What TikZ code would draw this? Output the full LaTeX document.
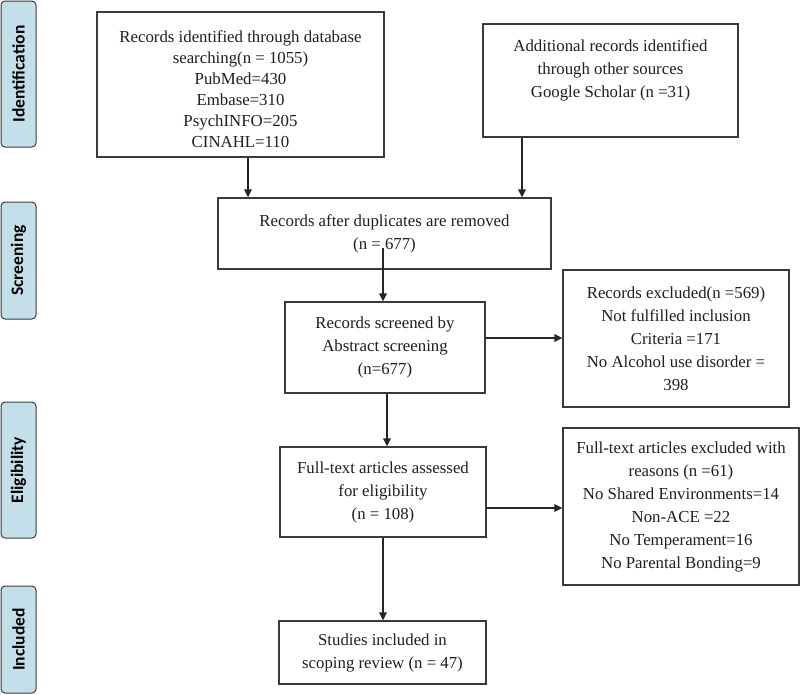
\documentclass[tikz,border=0pt]{standalone}
\usepackage{fontspec}
\setmainfont{Liberation Serif}
\newfontfamily\labelfont{Carlito}
\usetikzlibrary{arrows.meta}
\definecolor{boxline}{HTML}{3A3A3A}
\definecolor{txt}{HTML}{1F1F1F}
\definecolor{phasefill}{HTML}{C5DFEA}
\definecolor{phaseline}{HTML}{3C3C3C}
\definecolor{arrowc}{HTML}{262626}
\begin{document}
\begin{tikzpicture}[x=1pt,y=-1pt,
  box/.style={draw=boxline, line width=1.3pt, fill=white, align=center, inner sep=0pt, text=txt, font=\fontsize{16.8}{23}\selectfont},
  phase/.style={draw=phaseline, line width=1pt, fill=phasefill, rounded corners=4pt, rotate=90, minimum height=35pt, inner sep=0pt, font=\labelfont\bfseries\fontsize{17.5}{20}\selectfont, text=black},
  arr/.style={draw=arrowc, line width=1.6pt, -{Triangle[length=8pt,width=7.5pt]}}
]
\useasboundingbox (0,0) rectangle (800,694);

% phase labels
\node[phase, minimum width=146pt] (p1) at (18.5,74) {Identification};
\node[phase, minimum width=117pt] (p2) at (18.5,260.5) {Screening};
\node[phase, minimum width=136pt] (p3) at (18.5,470) {Eligibility};
\node[phase, minimum width=107pt] (p4) at (18.5,639.5) {Included};

% boxes
\node[box, minimum width=287pt, minimum height=145pt, font=\fontsize{16.8}{21}\selectfont] (b1) at (240.5,84.5)
  {\rule{0pt}{22pt}Records identified through database\\searching(n = 1055)\\PubMed=430\\Embase=310\\PsychINFO=205\\CINAHL=110};
\node[box, minimum width=255pt, minimum height=113pt] (b2) at (610.5,80.5)
  {Additional records identified\\through other sources\\Google Scholar (n =31)\\\mbox{}};
\node[box, minimum width=333pt, minimum height=71pt] (b3) at (384.5,233.5)
  {Records after duplicates are removed\\(n = 677)};
\node[box, minimum width=200pt, minimum height=91pt] (b4) at (385,347.5)
  {Records screened by\\Abstract screening\\(n=677)};
\node[box, minimum width=226pt, minimum height=137pt] (b5) at (676,338.5)
  {Records excluded(n =569)\\Not fulfilled inclusion\\Criteria =171\\No Alcohol use disorder =\\398};
\node[box, minimum width=206pt, minimum height=90pt] (b6) at (383,492)
  {Full-text articles assessed\\for eligibility\\(n = 108)};
\node[box, minimum width=236pt, minimum height=157pt] (b7) at (681,506.5)
  {Full-text articles excluded with\\reasons (n =61)\\No Shared Environments=14\\Non-ACE =22\\No Temperament=16\\No Parental Bonding=9};
\node[box, minimum width=207pt, minimum height=63pt] (b8) at (382.5,652.5)
  {Studies included in\\scoping review (n = 47)};

% connector guide coordinates
\coordinate (x13) at (248,0);
\coordinate (x23) at (522,0);
\coordinate (s34) at (383,248);
\coordinate (x46) at (387,0);
\coordinate (x68) at (383,0);
\coordinate (y45) at (0,338);
\coordinate (y67) at (0,508);

% connectors
\draw[arr] (b1.south -| x13) -- (b3.north -| x13);
\draw[arr] (b2.south -| x23) -- (b3.north -| x23);
\draw[arr] (s34) -- (s34 |- b4.north);
\draw[arr] (b4.east |- y45) -- (b5.west |- y45);
\draw[arr] (b4.south -| x46) -- (b6.north -| x46);
\draw[arr] (b6.east |- y67) -- (b7.west |- y67);
\draw[arr] (b6.south -| x68) -- (b8.north -| x68);
\end{tikzpicture}
\end{document}
